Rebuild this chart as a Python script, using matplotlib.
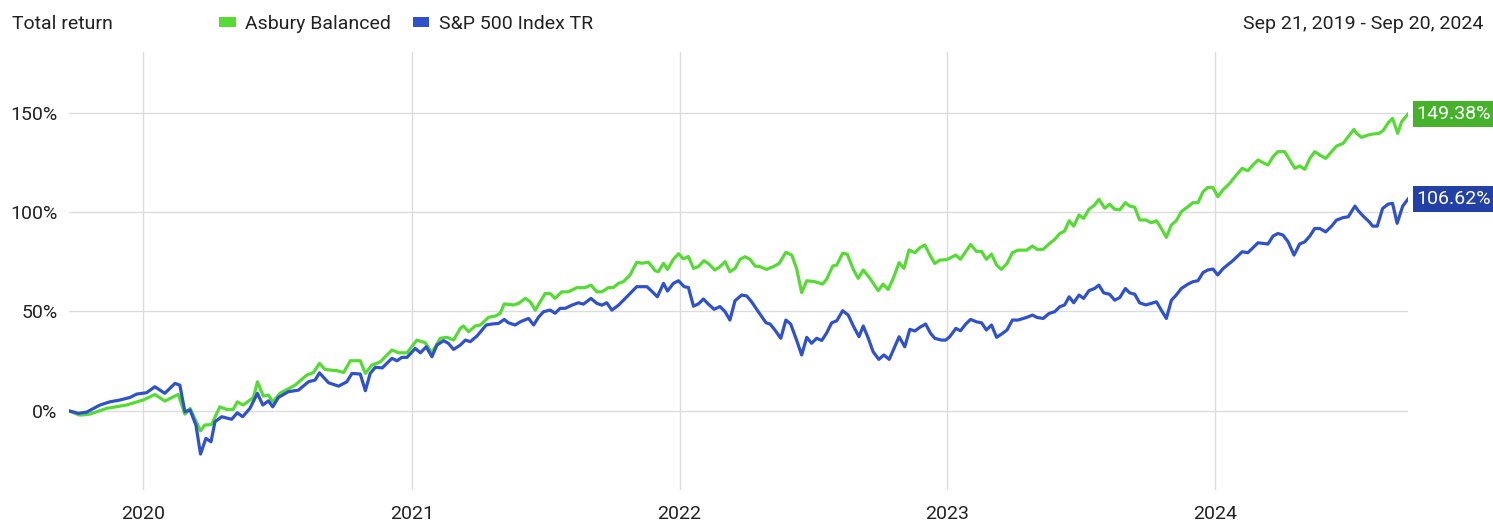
import numpy as np
import pandas as pd
import matplotlib
matplotlib.use("Agg")
import matplotlib.pyplot as plt
import matplotlib.dates as mdates
import matplotlib.transforms as mtransforms
from matplotlib.patches import Patch

plt.rcParams['font.family'] = ['Roboto', 'DejaVu Sans']

# ---------------- data (time as decimal years, total return in %) ----------------
series_names = ["Asbury Balanced", "S&P 500 Index TR"]
date_range_text = "Sep 21, 2019 - Sep 20, 2024"
title_text = "Total return"

asbury_t = [2019.719, 2019.763, 2019.800, 2019.863, 2019.937, 2019.999, 2020.043, 2020.080, 2020.130, 2020.155,
            2020.174, 2020.213, 2020.229, 2020.254, 2020.285, 2020.310, 2020.335, 2020.350, 2020.372, 2020.410,
            2020.425, 2020.447, 2020.466, 2020.482, 2020.509, 2020.565, 2020.609, 2020.634, 2020.656, 2020.677,
            2020.721, 2020.746, 2020.771, 2020.808, 2020.827, 2020.851, 2020.882, 2020.926, 2020.951, 2020.982,
            2021.019, 2021.050, 2021.075, 2021.106, 2021.131, 2021.156, 2021.181, 2021.193, 2021.212, 2021.237,
            2021.256, 2021.287, 2021.312, 2021.330, 2021.345, 2021.380, 2021.399, 2021.424, 2021.442, 2021.461,
            2021.498, 2021.517, 2021.535, 2021.560, 2021.585, 2021.616, 2021.647, 2021.669, 2021.691, 2021.710,
            2021.734, 2021.753, 2021.772, 2021.790, 2021.815, 2021.840, 2021.859, 2021.884, 2021.909, 2021.921,
            2021.940, 2021.955, 2021.977, 2021.996, 2022.014, 2022.033, 2022.052, 2022.070, 2022.091, 2022.107,
            2022.132, 2022.151, 2022.170, 2022.188, 2022.207, 2022.226, 2022.244, 2022.263, 2022.282, 2022.300,
            2022.325, 2022.350, 2022.372, 2022.397, 2022.419, 2022.437, 2022.456, 2022.475, 2022.506, 2022.534,
            2022.549, 2022.572, 2022.587, 2022.609, 2022.626, 2022.649, 2022.667, 2022.686, 2022.711, 2022.742,
            2022.760, 2022.779, 2022.798, 2022.820, 2022.838, 2022.857, 2022.879, 2022.897, 2022.916, 2022.935,
            2022.953, 2022.972, 2022.997, 2023.032, 2023.049, 2023.069, 2023.087, 2023.109, 2023.128, 2023.146,
            2023.165, 2023.184, 2023.202, 2023.223, 2023.243, 2023.264, 2023.296, 2023.318, 2023.335, 2023.358,
            2023.382, 2023.401, 2023.420, 2023.438, 2023.455, 2023.472, 2023.492, 2023.509, 2023.529, 2023.550,
            2023.566, 2023.588, 2023.606, 2023.625, 2023.644, 2023.665, 2023.681, 2023.700, 2023.718, 2023.741,
            2023.762, 2023.781, 2023.799, 2023.818, 2023.837, 2023.855, 2023.874, 2023.899, 2023.917, 2023.936,
            2023.955, 2023.973, 2023.992, 2024.010, 2024.029, 2024.054, 2024.079, 2024.101, 2024.122, 2024.141,
            2024.160, 2024.178, 2024.197, 2024.216, 2024.234, 2024.259, 2024.278, 2024.297, 2024.315, 2024.334,
            2024.353, 2024.371, 2024.390, 2024.412, 2024.434, 2024.452, 2024.477, 2024.496, 2024.517, 2024.527,
            2024.546, 2024.570, 2024.589, 2024.610, 2024.626, 2024.645, 2024.661, 2024.680, 2024.695, 2024.719]
asbury_ret = [0.0, -2.3, -1.8, 1.1, 2.8, 5.3, 8.1, 4.8, 8.1, -1.8,
              1.1, -10.2, -7.3, -7.0, 1.9, 0.6, 0.6, 4.4, 2.8, 6.6,
              14.5, 7.3, 7.8, 4.4, 8.7, 12.8, 17.9, 19.2, 23.8, 20.7,
              20.1, 19.2, 25.1, 25.1, 18.7, 22.9, 24.5, 30.5, 29.1, 29.1,
              35.5, 34.2, 29.1, 36.4, 36.9, 35.5, 41.4, 42.6, 39.7, 42.6,
              43.1, 47.0, 47.6, 49.0, 53.7, 53.2, 54.0, 56.5, 54.8, 50.6,
              59.0, 58.9, 56.5, 59.8, 59.8, 61.9, 61.9, 63.2, 59.8, 59.8,
              61.9, 62.0, 64.1, 64.9, 68.3, 74.7, 74.2, 74.7, 70.4, 70.0,
              74.2, 71.1, 76.2, 79.0, 76.4, 77.6, 71.6, 72.5, 75.5, 74.1,
              70.8, 72.5, 75.0, 69.9, 71.6, 76.2, 77.5, 76.2, 72.8, 72.5,
              71.1, 72.5, 74.1, 79.7, 78.3, 71.6, 59.4, 65.4, 64.9, 63.7,
              66.1, 72.8, 73.3, 79.2, 78.8, 71.1, 66.6, 70.8, 66.6, 60.4,
              63.7, 61.0, 66.6, 74.5, 71.6, 80.9, 79.5, 82.0, 83.4, 78.3,
              74.1, 75.8, 76.0, 78.3, 76.2, 80.1, 83.7, 80.1, 80.1, 76.2,
              78.8, 73.3, 71.1, 74.1, 79.5, 80.8, 80.8, 82.9, 81.2, 81.2,
              84.2, 86.2, 89.2, 90.4, 95.6, 92.9, 98.5, 96.8, 101.4, 103.5,
              106.4, 101.9, 103.9, 101.4, 101.1, 104.7, 103.0, 102.4, 96.0, 96.0,
              94.6, 95.6, 91.8, 87.2, 93.5, 95.6, 100.2, 102.7, 104.7, 104.7,
              110.2, 112.4, 112.4, 107.7, 111.1, 114.4, 118.6, 122.0, 120.8, 123.7,
              126.2, 124.9, 123.7, 127.9, 130.4, 130.4, 126.2, 122.0, 123.2, 121.5,
              127.0, 130.4, 128.7, 127.0, 130.4, 133.2, 134.6, 137.9, 141.6, 139.6,
              137.6, 138.8, 139.3, 139.6, 141.0, 145.0, 147.2, 139.6, 145.5, 149.38]

sp500_t = [2019.719, 2019.757, 2019.788, 2019.838, 2019.875, 2019.912, 2019.950, 2019.975, 2020.012, 2020.043,
           2020.080, 2020.118, 2020.136, 2020.155, 2020.174, 2020.196, 2020.213, 2020.233, 2020.252, 2020.267,
           2020.292, 2020.329, 2020.350, 2020.370, 2020.397, 2020.425, 2020.445, 2020.466, 2020.482, 2020.503,
           2020.540, 2020.578, 2020.615, 2020.640, 2020.656, 2020.690, 2020.727, 2020.758, 2020.777, 2020.808,
           2020.827, 2020.845, 2020.864, 2020.890, 2020.926, 2020.945, 2020.963, 2020.982, 2021.013, 2021.032,
           2021.054, 2021.075, 2021.094, 2021.119, 2021.137, 2021.156, 2021.181, 2021.200, 2021.218, 2021.243,
           2021.278, 2021.299, 2021.324, 2021.345, 2021.361, 2021.386, 2021.405, 2021.436, 2021.455, 2021.473,
           2021.492, 2021.517, 2021.535, 2021.554, 2021.573, 2021.598, 2021.622, 2021.641, 2021.669, 2021.691,
           2021.710, 2021.728, 2021.747, 2021.772, 2021.803, 2021.840, 2021.878, 2021.897, 2021.917, 2021.940,
           2021.955, 2021.977, 2021.996, 2022.017, 2022.033, 2022.052, 2022.070, 2022.089, 2022.107, 2022.129,
           2022.151, 2022.170, 2022.188, 2022.207, 2022.232, 2022.251, 2022.269, 2022.294, 2022.323, 2022.338,
           2022.356, 2022.378, 2022.397, 2022.415, 2022.437, 2022.456, 2022.475, 2022.493, 2022.512, 2022.531,
           2022.549, 2022.568, 2022.587, 2022.609, 2022.630, 2022.649, 2022.670, 2022.686, 2022.705, 2022.723,
           2022.744, 2022.763, 2022.783, 2022.798, 2022.820, 2022.841, 2022.860, 2022.879, 2022.897, 2022.919,
           2022.937, 2022.953, 2022.978, 2022.994, 2023.009, 2023.032, 2023.049, 2023.069, 2023.087, 2023.109,
           2023.128, 2023.146, 2023.165, 2023.184, 2023.202, 2023.223, 2023.243, 2023.264, 2023.296, 2023.318,
           2023.335, 2023.358, 2023.380, 2023.401, 2023.420, 2023.438, 2023.455, 2023.472, 2023.492, 2023.509,
           2023.529, 2023.550, 2023.566, 2023.584, 2023.606, 2023.625, 2023.644, 2023.665, 2023.681, 2023.700,
           2023.718, 2023.741, 2023.762, 2023.781, 2023.799, 2023.818, 2023.837, 2023.855, 2023.874, 2023.899,
           2023.917, 2023.936, 2023.955, 2023.973, 2023.992, 2024.010, 2024.029, 2024.066, 2024.101, 2024.122,
           2024.160, 2024.197, 2024.216, 2024.234, 2024.253, 2024.272, 2024.294, 2024.315, 2024.334, 2024.353,
           2024.371, 2024.390, 2024.412, 2024.434, 2024.452, 2024.477, 2024.496, 2024.521, 2024.533, 2024.552,
           2024.574, 2024.587, 2024.604, 2024.624, 2024.645, 2024.661, 2024.678, 2024.699, 2024.719]
sp500_ret = [0.0, -1.4, -0.8, 2.8, 4.4, 5.3, 6.6, 8.3, 9.0, 12.0,
             8.7, 13.7, 12.8, -0.6, 0.3, -7.3, -21.9, -14.0, -15.7, -5.6,
             -3.1, -4.4, -1.1, -3.1, 1.1, 8.7, 2.8, 4.9, 1.9, 6.6,
             9.5, 10.3, 14.5, 15.4, 19.0, 14.0, 12.3, 14.5, 18.7, 18.4,
             10.0, 18.7, 21.8, 21.5, 26.3, 25.1, 26.8, 26.8, 31.3, 29.1,
             32.1, 27.1, 33.0, 35.2, 33.8, 30.8, 33.0, 35.5, 34.7, 37.5,
             43.1, 43.6, 43.9, 45.9, 44.2, 43.1, 44.7, 46.4, 43.1, 47.0,
             49.8, 50.6, 49.0, 51.5, 51.5, 53.1, 54.3, 53.6, 56.5, 54.0,
             53.1, 54.3, 50.6, 53.1, 57.3, 62.4, 62.4, 60.0, 57.3, 64.1,
             60.2, 64.1, 65.4, 62.4, 62.0, 52.6, 53.7, 56.2, 53.7, 51.0,
             52.4, 49.8, 45.6, 55.3, 58.2, 57.7, 54.8, 49.8, 44.2, 43.6,
             40.6, 36.4, 45.6, 43.6, 35.5, 28.0, 36.9, 33.9, 36.4, 35.3,
             39.0, 44.2, 45.2, 50.3, 48.1, 42.6, 37.2, 42.6, 36.4, 29.6,
             25.8, 28.0, 25.8, 30.4, 37.2, 32.1, 40.9, 40.1, 41.9, 43.6,
             39.0, 36.4, 35.5, 35.5, 37.2, 41.4, 40.2, 43.6, 45.9, 44.7,
             44.2, 40.6, 43.1, 36.9, 38.5, 40.6, 45.6, 45.6, 46.9, 48.1,
             46.9, 46.4, 48.9, 49.8, 52.3, 53.2, 57.3, 54.3, 58.2, 56.5,
             60.4, 61.5, 63.2, 59.3, 58.6, 55.6, 56.9, 61.5, 59.3, 58.6,
             54.3, 53.2, 54.0, 54.8, 50.6, 46.4, 55.6, 58.2, 61.5, 63.7,
             64.9, 65.4, 69.5, 70.8, 71.3, 68.3, 71.4, 75.5, 80.0, 79.5,
             84.5, 83.9, 87.9, 89.2, 88.4, 85.0, 78.3, 83.9, 85.0, 87.9,
             91.7, 91.7, 90.0, 92.9, 95.9, 97.2, 97.6, 103.0, 100.7, 97.9,
             95.1, 92.9, 92.9, 101.8, 104.0, 104.4, 94.3, 103.0, 106.62]

y_ticks = [0, 50, 100, 150]
start_date = "2019-09-21"
end_date = "2024-09-20"

# ---------------- styling ----------------
line_colors = ["#55DB33", "#2F52CC"]
label_box_colors = ["#46B22B", "#2340A6"]
text_color = "#222222"
grid_color = "#DCDCDC"


def to_datetime(decimal_years):
    out = []
    for t in decimal_years:
        y = int(np.floor(t))
        s = pd.Timestamp(year=y, month=1, day=1)
        n = (pd.Timestamp(year=y + 1, month=1, day=1) - s).days
        out.append(s + pd.Timedelta(days=(t - y) * n))
    return out


W, H = 1493, 522
fig = plt.figure(figsize=(W / 100, H / 100), dpi=100)
ax = fig.add_axes([68.5 / W, 1 - 490 / H, (1408 - 68.5) / W, (490 - 52) / H])

series = [(asbury_t, asbury_ret), (sp500_t, sp500_ret)]
for (t, r), c, name in zip(series, line_colors, series_names):
    ax.plot(to_datetime(t), r, color=c, lw=2.3, solid_joinstyle='round', label=name, zorder=3)

ax.set_xlim(pd.Timestamp(start_date), pd.Timestamp(end_date))
ax.set_ylim(-40, 180.6)
ax.set_yticks(y_ticks)
ax.set_yticklabels([f"{v}%" for v in y_ticks])
ax.xaxis.set_major_locator(mdates.YearLocator())
ax.xaxis.set_major_formatter(mdates.DateFormatter('%Y'))
ax.grid(True, color=grid_color, lw=1.0)
ax.set_axisbelow(True)
for s in ax.spines.values():
    s.set_visible(False)
ax.tick_params(axis='both', length=0, labelsize=14, colors=text_color)
ax.tick_params(axis='y', pad=8)
ax.tick_params(axis='x', pad=11)

# end-value labels
trans = mtransforms.blended_transform_factory(ax.transAxes, ax.transData)
for (t, r), bc in zip(series, label_box_colors):
    ax.text(1.0065, r[-1], f"{r[-1]:.2f}%", transform=trans, ha='left', va='center',
            color='white', fontsize=14,
            bbox=dict(boxstyle='square,pad=0.2', fc=bc, ec='none'), clip_on=False)

# header texts
fig.text(12 / W, 1 - 24 / H, title_text, ha='left', va='center', fontsize=14, color=text_color)
fig.text(1483 / W, 1 - 24 / H, date_range_text, ha='right', va='center', fontsize=14, color=text_color)

handles = [Patch(facecolor=c, edgecolor='none', label=n) for c, n in zip(line_colors, series_names)]
fig.legend(handles=handles, loc='center left', bbox_to_anchor=(219 / W, 1 - 24 / H), ncol=2,
           frameon=False, fontsize=14, handlelength=0.85, handleheight=0.35, handletextpad=0.5,
           columnspacing=1.1, borderpad=0, borderaxespad=0, labelcolor=text_color)

fig.savefig("out.png", dpi=100)
